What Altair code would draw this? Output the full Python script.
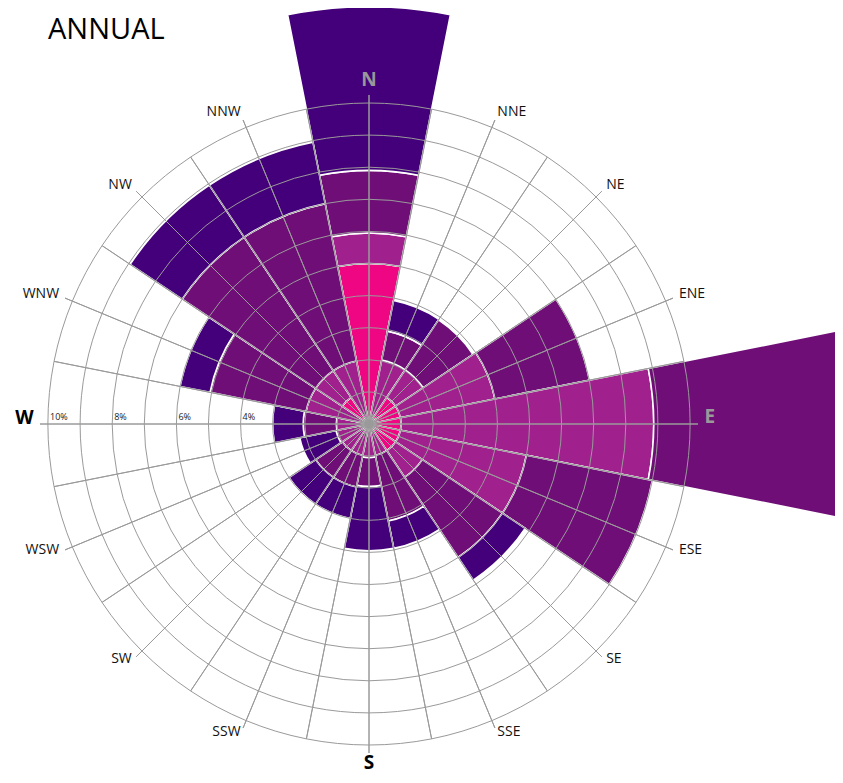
import altair as alt
import pandas as pd

# ---------------- data ----------------
directions = ["N", "NNE", "NE", "ENE", "E", "ESE", "SE", "SSE",
              "S", "SSW", "SW", "WSW", "W", "WNW", "NW", "NNW"]
class_names = ["Class 1", "Class 2", "Class 3", "Class 4"]
class_colors = ["#ee0683", "#a0218e", "#6e0e76", "#44007a"]

# frequency (%) of each speed class per direction
class1 = [5.0, 0.2, 1.0, 1.0, 1.0, 1.0, 1.0, 0.2, 0.2, 0.2, 0.2, 0.2, 0.1, 0.2, 1.0, 0.2]
class2 = [0.95, 1.83, 1.03, 3.0, 7.87, 4.0, 1.0, 0.8, 0.85, 0.8, 0.8, 0.85, 0.92, 1.8, 1.0, 1.8]
class3 = [1.95, 0.92, 1.87, 3.0, 7.13, 4.0, 3.0, 2.08, 0.9, 1.0, 1.0, 0.0, 1.03, 3.05, 5.0, 5.0]
class4 = [5.1, 0.97, 0.0, 0.0, 0.0, 0.0, 0.85, 0.87, 2.0, 1.0, 1.0, 1.15, 0.95, 0.95, 1.95, 1.95]

grid_pcts = [1, 2, 3, 4, 5, 6, 7, 8, 9, 10]
tick_pcts = [4, 6, 8, 10]
tick_labels = ["4%", "6%", "8%", "10%"]

# ---------------- tables ----------------
SECTOR = 360 / len(directions)
rows = []
for i, d in enumerate(directions):
    center = i * SECTOR
    cum = 0.0
    for cname, series in zip(class_names, [class1, class2, class3, class4]):
        v = series[i]
        if v > 0:
            rows.append({"dir": d, "cls": cname, "t0": center - SECTOR / 2,
                         "t1": center + SECTOR / 2, "r0": cum, "r1": cum + v})
        cum += v
bars_df = pd.DataFrame(rows)

rings_df = pd.DataFrame({"r": grid_pcts, "t0": 0, "t1": 360})

spoke_rows = []
for k in range(32):
    spoke_rows.append({"a": k * SECTOR / 2, "r": 10.25 if k % 2 == 0 else 10.0})
spokes_df = pd.DataFrame(spoke_rows)

labels_df = pd.DataFrame({"dir": directions,
                          "a": [i * SECTOR for i in range(len(directions))]})
east_df = labels_df[(labels_df["a"] > 0) & (labels_df["a"] < 180) & (labels_df["dir"] != "E")].assign(r=10.45)
west_df = labels_df[(labels_df["a"] > 180) & (labels_df["dir"] != "W")].assign(r=10.45)
e_df = labels_df[labels_df["dir"] == "E"].assign(r=10.45)
w_df = labels_df[labels_df["dir"] == "W"].assign(r=10.45)
n_df = labels_df[labels_df["dir"] == "N"].assign(r=10.75)
s_df = labels_df[labels_df["dir"] == "S"].assign(r=10.55)

ticks_df = pd.DataFrame({"r": tick_pcts, "label": tick_labels, "a": 270})

# ---------------- scales ----------------
CX, CY = 361, 416
theta_scale = alt.Scale(type="linear", domain=[0, 360], range=[0, 6.283185307179586])
radius_scale = alt.Scale(type="linear", domain=[0, 10], range=[0, 321], zero=True)
FONT = "Open Sans"
GRID = "#9a9a9a"

pos = dict(x=alt.value(CX), y=alt.value(CY))


def polar(field_t="a", field_r="r"):
    return dict(theta=alt.Theta(f"{field_t}:Q", scale=theta_scale, stack=None),
                radius=alt.Radius(f"{field_r}:Q", scale=radius_scale, stack=None))


bars = alt.Chart(bars_df).mark_arc(stroke="white", strokeWidth=1.6).encode(
    theta2="t1:Q", radius2="r0:Q",
    color=alt.Color("cls:N", scale=alt.Scale(domain=class_names, range=class_colors), legend=None),
    **polar("t0", "r1"), **pos,
)

rings = alt.Chart(rings_df).mark_arc(filled=False, stroke=GRID, strokeWidth=1).encode(
    theta2="t1:Q", radius2=alt.value(0), **polar("t0", "r"), **pos,
)

spokes = alt.Chart(spokes_df).mark_arc(filled=False, stroke=GRID, strokeWidth=1).encode(
    theta2="a:Q", radius2=alt.value(0), **polar("a", "r"), **pos,
)


def label_layer(df, align, color, size, weight, dy):
    return alt.Chart(df).mark_text(
        font=FONT, fontSize=size, fontWeight=weight, color=color,
        align=align, baseline="middle", dy=dy,
    ).encode(text="dir:N", **polar(), **pos)


east_labels = label_layer(east_df, "left", "#111111", 14, "normal", -2)
west_labels = label_layer(west_df, "right", "#111111", 14, "normal", -2)
e_label = label_layer(e_df, "left", "#999999", 19, "bold", -7)
w_label = label_layer(w_df, "right", "#000000", 19, "bold", -6)
n_label = label_layer(n_df, "center", "#999999", 19, "bold", 1)
s_label = label_layer(s_df, "center", "#000000", 19, "bold", 0)

tick_text = alt.Chart(ticks_df).mark_text(
    font=FONT, fontSize=9, color="#222222", align="left", baseline="bottom", dx=2, dy=-2
).encode(text="label:N", **polar(), **pos)

title = alt.Chart(pd.DataFrame({"t": ["ANNUAL"]})).mark_text(
    font=FONT, fontSize=29, color="#000000", align="left", baseline="middle"
).encode(text="t:N", x=alt.value(40), y=alt.value(22))

chart = alt.layer(
    bars, rings, spokes, east_labels, west_labels, e_label, w_label, n_label, s_label,
    tick_text, title,
).properties(
    width=827, height=767, padding=0,
    autosize=alt.AutoSizeParams(type="none"),
).configure_view(stroke=None)

chart.save("out.html", embed_options={"renderer": "svg", "actions": False})
